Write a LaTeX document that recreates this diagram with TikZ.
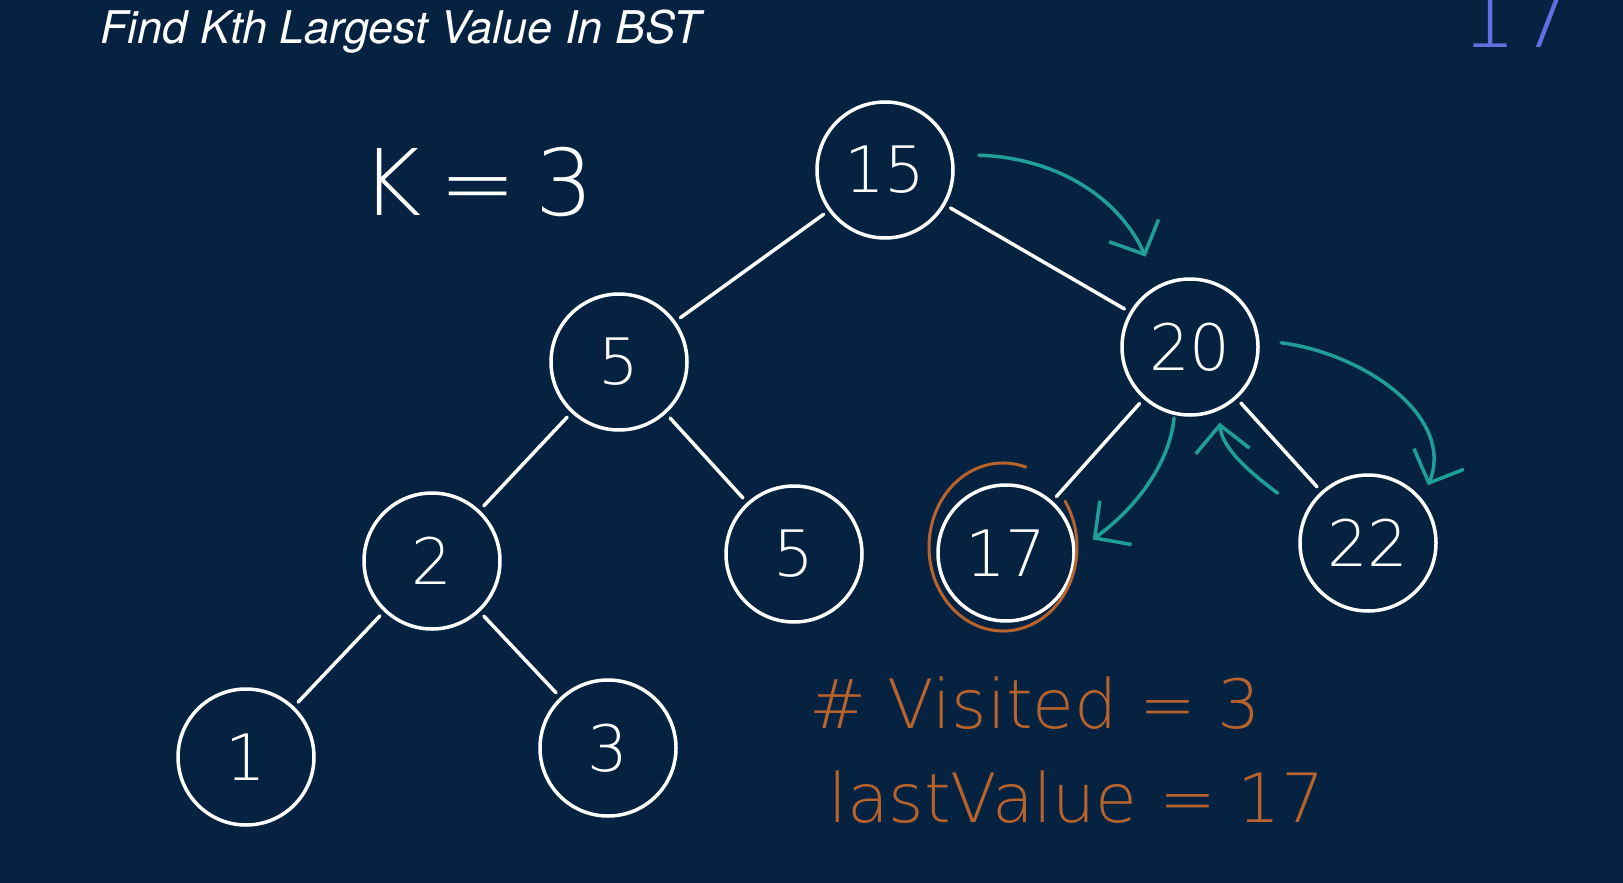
\documentclass[tikz,border=0pt]{standalone}
\usepackage{fontspec}
\setmainfont{DejaVu Sans ExtraLight}
\newfontfamily\titlefont{TeX Gyre Heros}
\usetikzlibrary{arrows.meta,calc}
\definecolor{board}{HTML}{052340}
\definecolor{pen}{HTML}{1F9E9A}
\definecolor{ink}{HTML}{B8622C}
\definecolor{chalk}{HTML}{5F70E0}
\begin{document}
\begin{tikzpicture}[x=1pt,y=-1pt,line cap=round,
  >={Straight Barb[length=26pt,width=54pt]},
  vertex/.style={circle,draw=white,line width=3.5pt,minimum size=136pt,inner sep=0pt,
    text=white,font=\fontsize{64}{64}\selectfont},
  branch/.style={white,line width=3.5pt,shorten <=6pt,shorten >=6pt},
  visit/.style={pen,line width=3.5pt,->},
  ring/.style={ink,line width=3pt}]
 \fill[board] (0,0) rectangle (1623,883);
 \clip (0,0) rectangle (1623,883);
 % heading and the k value
 \node[anchor=base west,inner sep=0pt,text=white,font=\titlefont\itshape\fontsize{45}{45}\selectfont] (title) at (100,44) {Find Kth Largest Value In BST};
 \node[anchor=base west,inner sep=0pt,text=chalk,font=\fontsize{90}{90}\selectfont] (seen) at (1460,48) {17};
 \node[anchor=base west,inner sep=0pt,text=white,font=\fontsize{92}{92}\selectfont] (kval) at (361,215) {K\hspace{.2em}=\hspace{.2em}3};
 % the tree
 \node[vertex] (n15) at (885,170) {15};
 \node[vertex] (n5a) at (619,362) {5};
 \node[vertex] (n20) at (1190,347) {20};
 \node[vertex] (n2) at (432,561) {2};
 \node[vertex] (n5b) at (794,554) {5};
 \node[vertex] (n17) at (1006,553) {17};
 \node[vertex] (n22) at (1368,543) {22};
 \node[vertex] (n1) at (246,757) {1};
 \node[vertex] (n3) at (608,748) {3};
 \draw[branch] (n15) -- (n5a);
 \draw[branch] (n15) -- (n20);
 \draw[branch] (n5a) -- (n2);
 \draw[branch] (n5a) -- (n5b);
 \draw[branch] (n2) -- (n1);
 \draw[branch] (n2) -- (n3);
 \draw[branch] (n20) -- (n17);
 \draw[branch] (n20) -- (n22);
 % reverse in-order walk
 \draw[visit,shorten <=26pt,shorten >=31pt] (n15.13) .. controls (1060,158) and (1120,200) .. (n20.117);
 \draw[visit,shorten <=22pt,shorten >=15pt] (n20.6) .. controls (1370,355) and (1455,420) .. (n22.39);
 \draw[visit,shorten <=3pt,shorten >=21pt] (n20.257) .. controls (1170,460) and (1140,505) .. (n17.1);
 \draw[visit,shorten <=34pt,shorten >=12pt] (n22.155) .. controls (1240,465) and (1222,445) .. (n20.294);
 \draw[ring] ([shift={(-3,-6)}]n17.center) ++(22.87pt,79.89pt)
   arc[start angle=72,end angle=393,x radius=74pt,y radius=84pt];
 % counters
 \node[anchor=base west,inner sep=0pt,text=ink,font=\fontsize{68}{68}\selectfont] (count) at (809,728) {\# Visited = 3};
 \node[anchor=base west,inner sep=0pt,text=ink,font=\fontsize{68}{68}\selectfont] (last) at (828,822) {lastValue = 17};
\end{tikzpicture}
\end{document}
